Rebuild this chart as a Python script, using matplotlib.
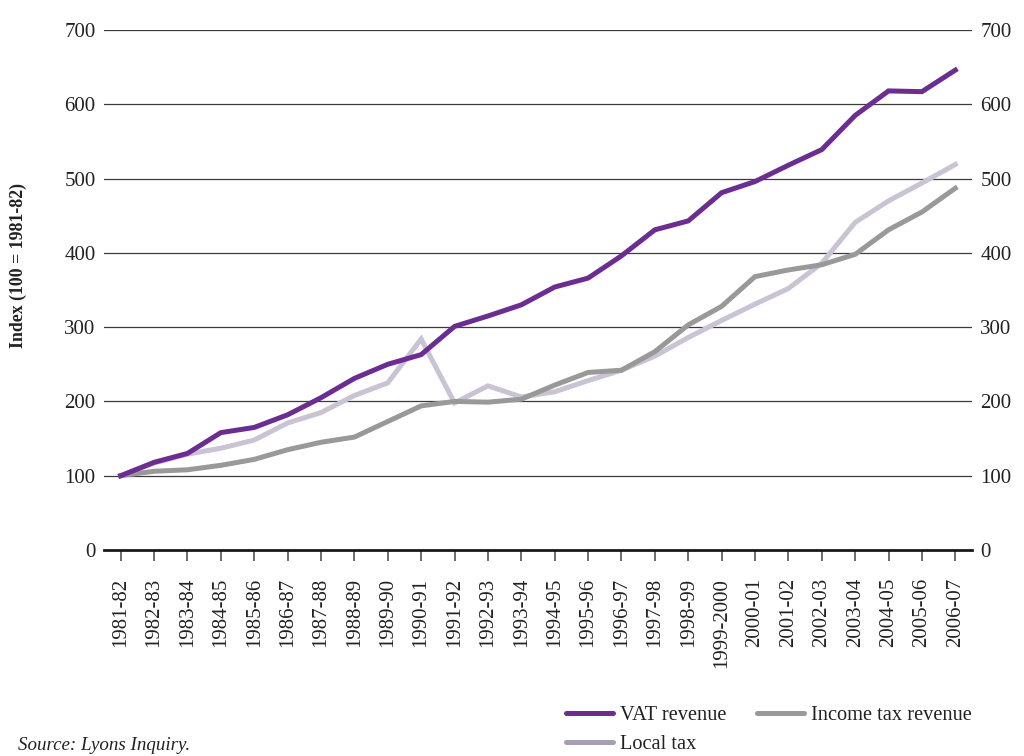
import matplotlib
matplotlib.use("Agg")
import matplotlib.pyplot as plt
from matplotlib.lines import Line2D

plt.rcParams['font.family'] = ['Liberation Serif', 'DejaVu Serif']

years = ['1981-82', '1982-83', '1983-84', '1984-85', '1985-86', '1986-87',
         '1987-88', '1988-89', '1989-90', '1990-91', '1991-92', '1992-93',
         '1993-94', '1994-95', '1995-96', '1996-97', '1997-98', '1998-99',
         '1999-2000', '2000-01', '2001-02', '2002-03', '2003-04', '2004-05',
         '2005-06', '2006-07']

vat_revenue = [100, 118, 130, 158, 165, 182, 205, 231, 250, 263, 301, 315, 330,
               354, 366, 396, 431, 443, 481, 496, 518, 539, 585, 618, 617, 646]
income_tax_revenue = [100, 106, 108, 114, 122, 135, 145, 152, 173, 194, 200, 199, 203,
                      222, 239, 242, 267, 303, 328, 368, 377, 384, 398, 431, 455, 487]
local_tax = [100, 117, 129, 137, 148, 171, 185, 208, 225, 284, 198, 221, 206,
             213, 228, 242, 261, 286, 309, 331, 352, 386, 441, 470, 494, 519]

y_ticks = [0, 100, 200, 300, 400, 500, 600, 700]

VAT_COLOR = '#6b2d91'
INCOME_COLOR = '#999999'
LOCAL_COLOR = '#cac3d3'
LOCAL_LEGEND_COLOR = '#a99db6'

fig = plt.figure(figsize=(10.24, 7.56), dpi=100)
ax = fig.add_axes([104 / 1024, 1 - 550 / 756, (972 - 104) / 1024, (550 - 30) / 756])

x = list(range(len(years)))
lw = 3.6
ax.plot(x, local_tax, color=LOCAL_COLOR, lw=lw, solid_joinstyle='miter', zorder=3)
ax.plot(x, income_tax_revenue, color=INCOME_COLOR, lw=lw, solid_joinstyle='miter', zorder=4)
ax.plot(x, vat_revenue, color=VAT_COLOR, lw=lw, solid_joinstyle='miter', zorder=5)

ax.set_xlim(-0.5, len(years) - 0.5)
ax.set_ylim(0, 700)
ax.set_yticks(y_ticks)
ax.set_yticklabels([str(v) for v in y_ticks])
ax.set_xticks(x)
ax.set_xticklabels(years, rotation=90, va='top', ha='center')

ax.yaxis.grid(True, color='#3c3c3c', lw=0.9)
ax.set_axisbelow(True)

for s in ['top', 'left', 'right']:
    ax.spines[s].set_visible(False)
ax.spines['bottom'].set_color('#1a1a1a')
ax.spines['bottom'].set_linewidth(2.0)
ax.spines['bottom'].set_zorder(6)

ax.tick_params(axis='y', length=0, pad=6, labelsize=15, labelright=True,
               labelcolor='#222222')
ax.tick_params(axis='x', direction='out', length=8, width=1.1, color='#444444',
               pad=12, labelsize=15, labelcolor='#222222')

fig.text(18 / 1024, 1 - 266 / 756, 'Index (100 = 1981-82)', rotation=90,
         ha='center', va='center', fontsize=12.8, fontweight='bold', color='#222222')

fig.text(18 / 1024, 1 - 745 / 756, 'Source: Lyons Inquiry.', ha='left', va='center',
         fontsize=13.7, style='italic', color='#222222')

handles = [
    Line2D([], [], color=VAT_COLOR, lw=lw, solid_capstyle='round'),
    Line2D([], [], color=LOCAL_LEGEND_COLOR, lw=lw, solid_capstyle='round'),
    Line2D([], [], color=INCOME_COLOR, lw=lw, solid_capstyle='round'),
]
labels = ['VAT revenue', 'Local tax', 'Income tax revenue']
fig.legend(handles, labels, loc='upper left', bbox_to_anchor=(566 / 1024, 1 - 706 / 756),
           ncol=2, frameon=False, fontsize=14.7, handlelength=2.3, handletextpad=0.35,
           columnspacing=1.5, labelspacing=0.45, borderpad=0, borderaxespad=0,
           labelcolor='#222222')

fig.savefig('out.png', dpi=100)
